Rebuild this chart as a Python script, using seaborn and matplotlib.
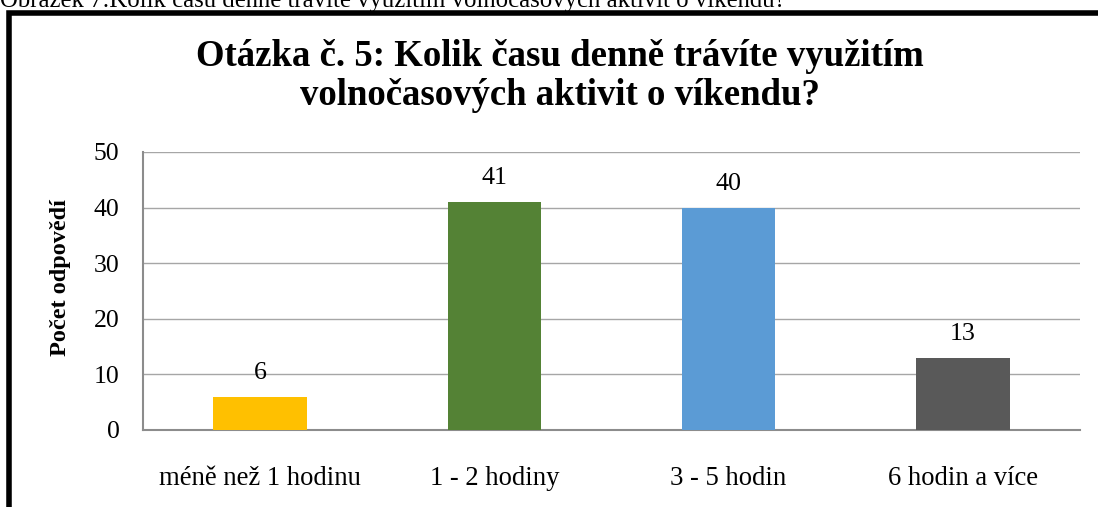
import matplotlib
matplotlib.use('Agg')
import matplotlib.pyplot as plt
import seaborn as sns
import pandas as pd
from matplotlib.patches import Rectangle

# data
categories = ['méně než 1 hodinu', '1 - 2 hodiny', '3 - 5 hodin', '6 hodin a více']
counts = [6, 41, 40, 13]
bar_colors = ['#FFC000', '#548235', '#5B9BD5', '#595959']
y_ticks = [0, 10, 20, 30, 40, 50]

title_1 = 'Otázka č. 5: Kolik času denně trávíte využitím'
title_2 = 'volnočasových aktivit o víkendu?'
caption = 'Obrázek 7:Kolik času denně trávíte využitím volnočasových aktivit o víkendu?'
y_label = 'Počet odpovědí'

df = pd.DataFrame({'kategorie': categories, 'pocet': counts})

sns.set_style('white')
plt.rcParams['font.family'] = ['Liberation Serif', 'DejaVu Serif']
plt.rcParams['text.color'] = 'black'
plt.rcParams['xtick.color'] = 'black'
plt.rcParams['ytick.color'] = 'black'
plt.rcParams['axes.labelcolor'] = 'black'

fig = plt.figure(figsize=(10.98, 5.07), dpi=100)
ax = fig.add_axes([143 / 1098, 1 - 430 / 507, 937 / 1098, 278 / 507])

sns.barplot(data=df, x='kategorie', y='pocet', hue='kategorie', palette=bar_colors,
            width=0.4, saturation=1, linewidth=0, legend=False, ax=ax, zorder=3)

ax.set_ylim(0, 50)
ax.set_yticks(y_ticks)
ax.set_xlim(-0.5, len(categories) - 0.5)
ax.yaxis.grid(True, color='#A6A6A6', linewidth=1.0, zorder=0)
ax.set_axisbelow(True)
for side in ['top', 'right']:
    ax.spines[side].set_visible(False)
for side in ['left', 'bottom']:
    ax.spines[side].set_color('#8C8C8C')
    ax.spines[side].set_linewidth(1.5)

ax.tick_params(axis='y', length=0, pad=17, labelsize=18.5)
ax.tick_params(axis='x', length=0, pad=26, labelsize=19.2)
ax.set_xlabel('')
ax.set_ylabel(y_label, fontsize=17.5, fontweight='bold')
ax.yaxis.set_label_coords(-0.077, 0.547)

# value labels above bars
for i, v in enumerate(counts):
    ax.annotate(str(v), (i, v), xytext=(0, 13), textcoords='offset points',
                ha='center', va='baseline', fontsize=18.7)

# chart title
fig.text(560 / 1098, 1 - 66 / 507, title_1, ha='center', va='baseline',
         fontsize=26.5, fontweight='bold')
fig.text(560 / 1098, 1 - 105 / 507, title_2, ha='center', va='baseline',
         fontsize=26.5, fontweight='bold')

# caption cut off at the top of the page
fig.text(0, 1 - 7 / 507, caption, ha='left', va='baseline', fontsize=17.8)

# chart frame, running past the right and bottom edges
fig.patches.append(Rectangle((9 / 1098, -0.1), 1.2, 1.1 - 13 / 507,
                             transform=fig.transFigure, fill=False,
                             edgecolor='black', linewidth=4))

fig.savefig('out.png', dpi=100)
